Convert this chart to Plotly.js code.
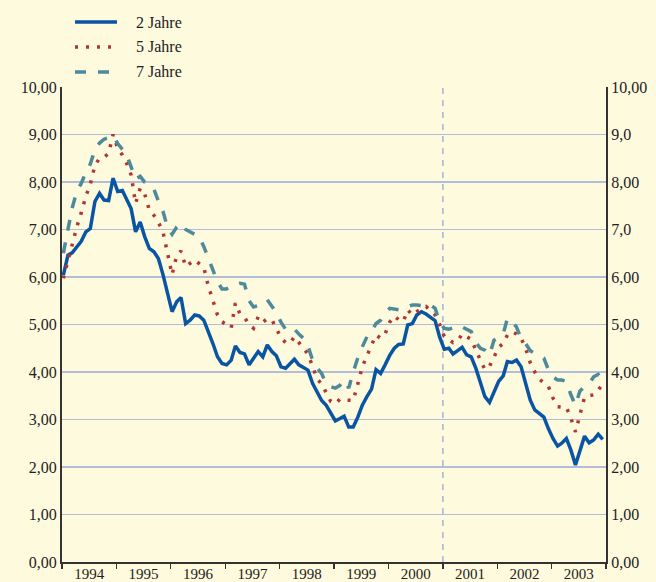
<!DOCTYPE html>
<html>
<head>
<meta charset="utf-8">
<script src="https://cdn.plot.ly/plotly-3.0.1.min.js"></script>
<style>html,body{margin:0;padding:0;background:#FEFADE;}#chart{width:656px;height:582px;}</style>
</head>
<body>
<div id="chart"></div>
<script>
// Monthly yields, Jan 1994 .. Dec 2003
var startYear = 1994;
var seriesNames = ["2 Jahre", "5 Jahre", "7 Jahre"];
var leftTickText = ["0,00","1,00","2,00","3,00","4,00","5,00","6,00","7,00","8,00","9,00","10,00"];
var rightTickText = ["0,00","1,00","2,00","3,00","4,00","5,00","6,00","7,0","8,00","9,0","10,00"];
var tickValues = [0,1,2,3,4,5,6,7,8,9,10];

var y2 = [6.04,6.46,6.51,6.62,6.75,6.95,7.02,7.59,7.76,7.62,7.61,8.08,
7.80,7.82,7.62,7.44,6.95,7.16,6.85,6.60,6.53,6.39,6.05,5.65,
5.27,5.48,5.57,5.02,5.09,5.20,5.18,5.09,4.85,4.60,4.32,4.18,
4.15,4.25,4.55,4.41,4.38,4.15,4.29,4.43,4.32,4.57,4.43,4.34,
4.11,4.08,4.17,4.27,4.15,4.10,4.04,3.76,3.59,3.40,3.30,3.15,
2.97,3.02,3.07,2.84,2.84,3.05,3.30,3.48,3.64,4.05,3.97,4.15,
4.35,4.50,4.58,4.59,4.99,5.02,5.20,5.27,5.22,5.15,5.08,4.74,
4.48,4.50,4.38,4.45,4.52,4.36,4.32,4.08,3.80,3.48,3.36,3.60,
3.80,3.92,4.22,4.20,4.25,4.11,3.73,3.41,3.20,3.13,3.05,2.81,
2.60,2.44,2.50,2.60,2.36,2.04,2.32,2.65,2.51,2.57,2.69,2.58];

var y5 = [5.97,6.35,6.67,7.05,7.35,7.70,7.95,8.35,8.50,8.52,8.60,9.00,
8.71,8.57,8.40,8.15,7.55,7.87,7.75,7.41,7.30,7.15,6.95,6.50,
6.05,6.45,6.55,6.22,6.30,6.36,6.28,6.20,5.80,5.50,5.20,5.06,
5.00,4.93,5.45,5.22,5.15,5.00,4.92,5.16,5.05,5.12,5.10,4.92,
4.72,4.62,4.60,4.74,4.62,4.50,4.38,4.12,3.85,3.75,3.58,3.38,
3.33,3.43,3.41,3.40,3.40,3.75,4.11,4.34,4.57,4.78,4.71,4.80,
5.05,5.18,5.10,5.06,5.31,5.20,5.27,5.34,5.38,5.28,5.20,5.00,
4.75,4.69,4.62,4.65,4.80,4.74,4.69,4.46,4.25,4.05,4.12,4.30,
4.52,4.60,4.78,4.85,4.80,4.71,4.50,4.20,4.00,3.85,3.78,3.70,
3.45,3.27,3.26,3.26,3.03,2.74,3.10,3.47,3.50,3.52,3.62,3.75];

var y7 = [6.50,7.05,7.45,7.80,7.97,8.20,8.38,8.68,8.82,8.90,8.93,8.97,
8.81,8.70,8.58,8.32,8.06,8.12,8.00,7.95,7.85,7.60,7.38,7.05,
6.90,7.05,7.13,7.00,6.95,6.90,6.85,6.64,6.40,6.13,5.90,5.75,
5.75,5.80,5.85,5.87,5.85,5.50,5.37,5.40,5.45,5.52,5.38,5.25,
5.05,4.90,4.85,4.90,4.80,4.71,4.55,4.25,4.08,3.97,3.75,3.69,
3.66,3.72,3.83,3.66,4.00,4.30,4.53,4.74,4.85,5.02,5.09,5.25,
5.34,5.33,5.31,5.34,5.38,5.41,5.41,5.40,5.42,5.41,5.34,5.05,
4.92,4.90,4.93,4.98,4.95,4.90,4.85,4.62,4.50,4.46,4.36,4.67,
4.72,4.80,5.13,5.06,4.95,4.70,4.60,4.45,4.40,4.36,4.29,4.05,
3.90,3.83,3.83,3.80,3.52,3.30,3.60,3.69,3.75,3.90,3.95,3.85];

var months = [];
for (var i = 0; i < y2.length; i++) {
  var yr = startYear + Math.floor(i / 12);
  var m = (i % 12) + 1;
  months.push(yr + "-" + (m < 10 ? "0" + m : m) + "-10");
}

var fontFam = "Liberation Serif, Times New Roman, serif";
var colors = ["#0A55A3", "#B03535", "#4E8A9C"];
var dashes = ["solid", "3px,8px", "11px,12px"];
var traces = [
  {x: months, y: y2, name: seriesNames[0], type: "scatter", mode: "lines",
   line: {color: colors[0], width: 3.5, dash: dashes[0]}},
  {x: months, y: y5, name: seriesNames[1], type: "scatter", mode: "lines",
   line: {color: colors[1], width: 3.5, dash: dashes[1]}},
  {x: months, y: y7, name: seriesNames[2], type: "scatter", mode: "lines",
   line: {color: colors[2], width: 3.5, dash: dashes[2]}},
  {x: [], y: [], yaxis: "y2", showlegend: false, type: "scatter", hoverinfo: "skip"}
];

// Legend drawn in paper coordinates (plot area: x 62..606, y 87..562)
var plotL = 62, plotW = 544, plotT = 87, plotH = 475;
function px2x(p) { return (p - plotL) / plotW; }
function px2y(p) { return 1 + (plotT - p) / plotH; }
var legendRowsPx = [22, 47, 72];
var shapes = [{type: "line", xref: "x", yref: "paper", x0: "2001-01-01", x1: "2001-01-01", y0: 0, y1: 1,
            line: {color: "#8FA2DA", width: 1.2, dash: "6px,6px"}, layer: "below"}];
var annotations = [];
for (var k = 0; k < 3; k++) {
  shapes.push({type: "line", xref: "paper", yref: "paper",
    x0: px2x(75), x1: px2x(k === 0 ? 117 : 114), y0: px2y(legendRowsPx[k]), y1: px2y(legendRowsPx[k]),
    line: {color: colors[k], width: 3.5, dash: dashes[k]}});
  annotations.push({xref: "paper", yref: "paper", x: px2x(134), y: px2y(legendRowsPx[k]),
    xanchor: "left", yanchor: "middle", showarrow: false, text: seriesNames[k],
    font: {family: fontFam, size: 16, color: "#222"}});
}

var layout = {
  width: 656, height: 582,
  margin: {l: 62, r: 50, t: 87, b: 20, autoexpand: false},
  paper_bgcolor: "#FEFADE",
  plot_bgcolor: "#FEFADE",
  font: {family: fontFam, size: 16, color: "#222"},
  showlegend: false,
  xaxis: {
    type: "date", range: ["1994-01-01", "2004-01-01"], tick0: "1994-01-01", dtick: "M12",
    tickformat: "%Y", ticklabelmode: "period", ticks: "outside", ticklen: 5, tickwidth: 1.5,
    tickcolor: "#333", showline: true, linecolor: "#333", linewidth: 2, showgrid: false,
    zeroline: false, ticklabelstandoff: -8, tickfont: {family: fontFam, size: 15, color: "#222"}
  },
  yaxis: {
    range: [0, 10], tickvals: tickValues, ticktext: leftTickText, showline: true,
    linecolor: "#333", linewidth: 2, showgrid: true, gridcolor: "#B3BCD8", gridwidth: 1.5,
    zeroline: false, ticks: "", tickfont: {family: fontFam, size: 16, color: "#222"}
  },
  yaxis2: {
    overlaying: "y", side: "right", range: [0, 10], tickvals: tickValues, ticktext: rightTickText,
    showline: true, linecolor: "#333", linewidth: 2, showgrid: false, zeroline: false, ticks: "",
    tickfont: {family: fontFam, size: 16, color: "#222"}
  },
  shapes: shapes,
  annotations: annotations
};

Plotly.newPlot("chart", traces, layout, {displayModeBar: false, staticPlot: true});
</script>
</body>
</html>
